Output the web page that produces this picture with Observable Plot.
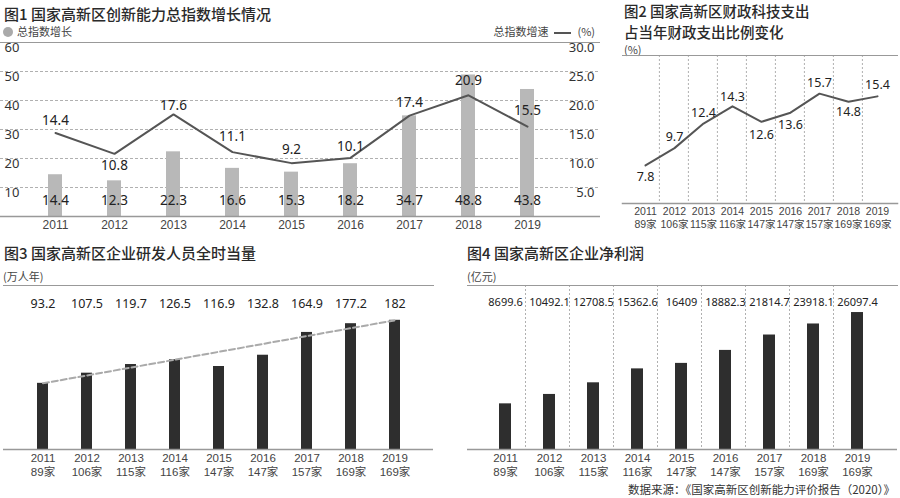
<!DOCTYPE html>
<html><head><meta charset="utf-8">
<script src="https://cdn.jsdelivr.net/npm/d3@7"></script>
<script src="https://cdn.jsdelivr.net/npm/@observablehq/plot@0.6"></script>
<style>
body{margin:0;background:#fff;width:900px;height:498px;overflow:hidden;position:relative;font-family:"Noto Sans CJK SC","Noto Sans",sans-serif;color:#333}
.abs{position:absolute;white-space:nowrap}
.title{font-size:15px;font-weight:500;color:#2a2a2a;line-height:17px}
.small{font-size:11px;color:#444;line-height:13px}
.panel{position:absolute}
.panel svg{overflow:visible}
</style></head><body>
<div class="abs title" style="left:4px;top:5px">图1 国家高新区创新能力总指数增长情况</div>
<div class="abs small" style="left:3px;top:25px"><span style="display:inline-block;width:10px;height:10px;border-radius:5px;background:#aaa;vertical-align:-1px;margin-right:4px"></span>总指数增长</div>
<div class="abs small" style="right:305px;top:25px">总指数增速<span style="display:inline-block;width:17px;height:2px;background:#555;vertical-align:middle;margin:0 6px"></span>(%)</div>
<div class="abs title" style="left:624px;top:2px;font-size:14.5px">图2 国家高新区财政科技支出</div>
<div class="abs title" style="left:624px;top:23px;font-size:14.5px">占当年财政支出比例变化</div>
<div class="abs small" style="left:624px;top:43px">(%)</div>
<div class="abs title" style="left:4px;top:244px">图3 国家高新区企业研发人员全时当量</div>
<div class="abs small" style="left:3px;top:270px">(万人年)</div>
<div class="abs title" style="left:467px;top:244px">图4 国家高新区企业净利润</div>
<div class="abs small" style="left:467px;top:270px">(亿元)</div>
<div class="abs small" style="right:5px;top:483px;color:#333;font-size:11.5px">数据来源：《国家高新区创新能力评价报告（2020）》</div>
<div id="p1" class="panel" style="left:0;top:36px"></div>
<div id="p2" class="panel" style="left:620px;top:50px"></div>
<div id="p3" class="panel" style="left:0;top:280px"></div>
<div id="p4" class="panel" style="left:460px;top:280px"></div>
<script>
// ---- data ----
const years = ["2011","2012","2013","2014","2015","2016","2017","2018","2019"];
const firms = ["89家","106家","115家","116家","147家","147家","157家","169家","169家"];
const indexValues = [14.4,12.3,22.3,16.6,15.3,18.2,34.7,48.8,43.8];
const indexGrowth = [14.4,10.8,17.6,11.1,9.2,10.1,17.4,20.9,15.5];
const leftTicks = [10,20,30,40,50,60];
const rightTicks = [5,10,15,20,25,30];
const fiscalShare = [7.8,9.7,12.4,14.3,12.6,13.6,15.7,14.8,15.4];
const rdStaff = [93.2,107.5,119.7,126.5,116.9,132.8,164.9,177.2,182];
const netProfit = [8699.6,10492.1,12708.5,15362.6,16409,18882.3,21814.7,23918.1,26097.4];

// ---- rendering ----
const numFont = '"Noto Sans","Liberation Sans",sans-serif';
const axisFont = '"Liberation Sans",Arial,"Noto Sans CJK SC",sans-serif';
const growthDy = [-12,12,-9,-15,-13,-11,-13,-15,-16];
const fiscalDy = [12,-11,-11,-9,13,12,-11,10,-11];
const twoLine = d => `${d}\n${firms[years.indexOf(d)]}`;

const d1 = years.map((year,i)=>({year, index:indexValues[i], growth:indexGrowth[i]}));
const p1 = Plot.plot({
  width:600, height:200, marginTop:6, marginBottom:20, marginLeft:0, marginRight:0,
  x:{type:"band", domain:years, range:[2,581], padding:0.76},
  y:{domain:[0,60], axis:null},
  style:{fontFamily:numFont, fontSize:"13px", color:"#333", background:"transparent"},
  marks:[
    Plot.ruleY(leftTicks.slice(0,-1), {stroke:"#b0b0b0", strokeDasharray:"3,2"}),
    Plot.ruleY([60], {stroke:"#999"}),
    Plot.barY(d1, {x:"year", y:"index", fill:"#b8b8b8"}),
    Plot.ruleY([0], {stroke:"#999", strokeWidth:1.5}),
    Plot.line(d1, {x:"year", y:d=>d.growth*2, stroke:"#555", strokeWidth:2}),
    Plot.text(leftTicks, {y:d=>d, text:d=>String(d), frameAnchor:"left", textAnchor:"start", dx:4, dy:5, fontSize:13, fill:"#333"}),
    Plot.text(rightTicks, {y:d=>d*2, text:d=>d.toFixed(1), frameAnchor:"right", textAnchor:"end", dx:-6, dy:5, fontSize:13, fill:"#333"}),
    Plot.text(d1, {x:"year", y:0, text:d=>d.index.toFixed(1), dy:-16, fontSize:13.5, fill:"#222"}),
    ...d1.map((d,i)=>Plot.text([d], {x:"year", y:d=>d.growth*2, text:d=>d.growth.toFixed(1), dy:growthDy[i], fontSize:13.5, fill:"#222"})),
    Plot.axisX({tickSize:0, tickPadding:4, fontSize:12, fontFamily:axisFont, fill:"#444", label:null})
  ]
});
document.getElementById("p1").append(p1);

const d2 = years.map((year,i)=>({year, v:fiscalShare[i]}));
const p2 = Plot.plot({
  width:280, height:183, marginTop:5, marginBottom:30, marginLeft:2, marginRight:3,
  x:{type:"band", domain:years, range:[5,277]},
  y:{domain:[3.6,19.9], axis:null},
  style:{fontFamily:numFont, fontSize:"12px", color:"#333", background:"transparent"},
  marks:[
    Plot.ruleX(years.slice(1), {x:d=>d, dx:-15.1, stroke:"#b0b0b0", strokeDasharray:"2,2"}),
    Plot.frame({anchor:"top", stroke:"#999"}),
    Plot.frame({anchor:"bottom", stroke:"#999", strokeWidth:1.5}),
    Plot.line(d2, {x:"year", y:"v", stroke:"#555", strokeWidth:2}),
    ...d2.map((d,i)=>Plot.text([d], {x:"year", y:"v", text:d=>d.v.toFixed(1), dy:fiscalDy[i], fontSize:12.5, fill:"#222"})),
    Plot.axisX({tickSize:0, tickPadding:3, fontSize:10.5, lineHeight:1.2, letterSpacing:-0.4, fontFamily:axisFont, fill:"#444", tickFormat:twoLine, label:null})
  ]
});
document.getElementById("p2").append(p2);

const d3data = years.map((year,i)=>({year, v:rdStaff[i]}));
const p3 = Plot.plot({
  width:440, height:200, marginTop:5, marginBottom:31, marginLeft:3, marginRight:7,
  x:{type:"band", domain:years, range:[0,436], padding:0.75},
  y:{domain:[0,231], axis:null},
  style:{fontFamily:numFont, fontSize:"13px", color:"#333", background:"transparent"},
  marks:[
    Plot.frame({anchor:"top", stroke:"#999"}),
    Plot.barY(d3data, {x:"year", y:"v", fill:"#2e2e2e"}),
    Plot.ruleY([0], {stroke:"#999", strokeWidth:1.5}),
    Plot.line([d3data[0], d3data[d3data.length-1]], {x:"year", y:"v", stroke:"#aaa", strokeWidth:2, strokeDasharray:"6,3"}),
    Plot.text(d3data, {x:"year", text:d=>String(d.v), frameAnchor:"top", dy:14, fontSize:12.5, fill:"#222"}),
    Plot.axisX({tickSize:0, tickPadding:3, fontSize:11.5, lineHeight:1.2, fontFamily:axisFont, fill:"#444", tickFormat:twoLine, label:null})
  ]
});
document.getElementById("p3").append(p3);

const d4 = years.map((year,i)=>({year, v:netProfit[i]}));
const p4 = Plot.plot({
  width:440, height:200, marginTop:5, marginBottom:31, marginLeft:7, marginRight:3,
  x:{type:"band", domain:years, range:[5,437], padding:0.73},
  y:{domain:[0,31250], axis:null},
  style:{fontFamily:numFont, fontSize:"13px", color:"#333", background:"transparent"},
  marks:[
    Plot.ruleX(years.slice(1), {x:d=>d, dx:-24, stroke:"#b0b0b0", strokeDasharray:"2,2"}),
    Plot.frame({anchor:"top", stroke:"#999"}),
    Plot.barY(d4, {x:"year", y:"v", fill:"#2e2e2e"}),
    Plot.ruleY([0], {stroke:"#999", strokeWidth:1.5}),
    Plot.text(d4, {x:"year", text:d=>String(d.v), frameAnchor:"top", dy:13, fontSize:11, fill:"#222", letterSpacing:-0.3}),
    Plot.axisX({tickSize:0, tickPadding:3, fontSize:11.5, lineHeight:1.2, fontFamily:axisFont, fill:"#444", tickFormat:twoLine, label:null})
  ]
});
document.getElementById("p4").append(p4);
</script>
</body></html>
